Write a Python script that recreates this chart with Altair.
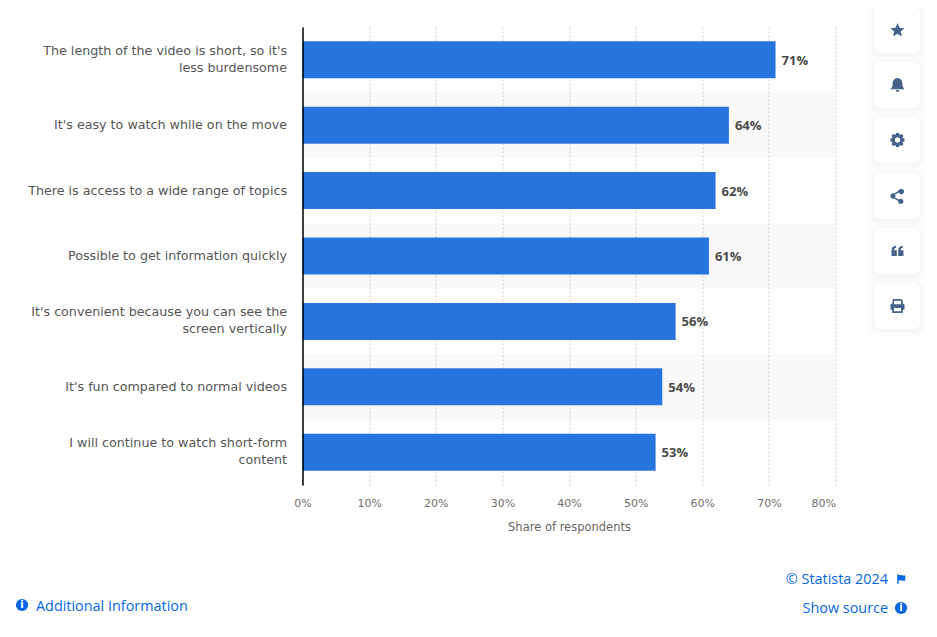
import altair as alt
import pandas as pd

categories = [
    "The length of the video is short, so it's|less burdensome",
    "It's easy to watch while on the move",
    "There is access to a wide range of topics",
    "Possible to get information quickly",
    "It's convenient because you can see the|screen vertically",
    "It's fun compared to normal videos",
    "I will continue to watch short-form|content",
]
values = [71, 64, 62, 61, 56, 54, 53]
x_ticks = [0, 10, 20, 30, 40, 50, 60, 70, 80]

FONT = "DejaVu Sans"
LINK = "Open Sans"
BLUE = "#0666e5"
ICON = "#46628a"
PW, PH = 533, 458
LEFT, TOP = 294.5, 19

df = pd.DataFrame({"cat": categories, "v": values, "label": [f"{v}%" for v in values],
                   "striped": [i % 2 == 1 for i in range(7)]})

y_enc = alt.Y("cat:N", sort=categories, title=None,
              scale=alt.Scale(paddingInner=0, paddingOuter=0),
              axis=alt.Axis(domainColor="#000000", domainWidth=1.5, ticks=False, grid=False,
                            labels=False))
x_scale = alt.Scale(domain=[0, 80], nice=False)
x_enc = alt.X("v:Q", scale=x_scale, title="Share of respondents",
              axis=alt.Axis(values=x_ticks, format="d", labelExpr="datum.value + '%'",
                            domain=False, ticks=False, grid=True, gridColor="#cfcfcf",
                            gridDash=[2, 2], gridWidth=1, labelFont=FONT, labelFontSize=11,
                            labelColor="#707070", labelPadding=12, labelOverlap=False,
                            labelFlush=False,
                            labelAlign=alt.expr("datum.value == 80 ? 'right' : 'center'"),
                            titleFont=FONT, titleFontSize=11.5, titleColor="#666666",
                            titleFontWeight="normal", titlePadding=13))

stripes = alt.Chart(df).transform_filter("datum.striped").mark_rect(
    color="#000000", opacity=0.025).encode(
    y=alt.Y("cat:N", sort=categories), x=alt.X("zero:Q", scale=x_scale), x2="top:Q"
).transform_calculate(zero="0", top="80")

bars = alt.Chart(df).mark_bar(color="#2874df", size=37).encode(x=x_enc, y=y_enc)
labels = alt.Chart(df).mark_text(align="left", dx=6, dy=1, font=LINK, fontSize=13, fontWeight="bold",
                                 color="#4a4a4a").encode(
    x="v:Q", y=alt.Y("cat:N", sort=categories), text="label:N")


def cat_layer(test, dy):
    return alt.Chart(df).transform_filter(test).mark_text(
        align="right", baseline="middle", dy=dy, font=FONT, fontSize=12.7,
        color="#555555", lineBreak="|", lineHeight=17).encode(
        x=alt.value(-15.5), y=alt.Y("cat:N", sort=categories), text="cat:N")


cat_single = cat_layer("indexof(datum.cat, '|') < 0", 0)
cat_double = cat_layer("indexof(datum.cat, '|') >= 0", -9)

# ---- page furniture ----
icon_y = [30, 85, 140, 196, 251, 306]
icon_paths = [
    "M0,-1 L0.29,-0.31 L1,-0.24 L0.47,0.2 L0.62,0.92 L0,0.55 L-0.62,0.92 L-0.47,0.2 L-1,-0.24 L-0.29,-0.31 Z",
    "M0,-1 C0.45,-1 0.7,-0.6 0.7,-0.2 L0.7,0.15 L1,0.6 L-1,0.6 L-0.7,0.15 L-0.7,-0.2 C-0.7,-0.6 -0.45,-1 0,-1 Z M-0.25,0.72 L0.25,0.72 L0.15,0.95 L-0.15,0.95 Z",
    "M-0.2,-1 L0.2,-1 L0.3,-0.7 L0.6,-0.85 L0.85,-0.6 L0.7,-0.3 L1,-0.2 L1,0.2 L0.7,0.3 L0.85,0.6 L0.6,0.85 L0.3,0.7 L0.2,1 L-0.2,1 L-0.3,0.7 L-0.6,0.85 L-0.85,0.6 L-0.7,0.3 L-1,0.2 L-1,-0.2 L-0.7,-0.3 L-0.85,-0.6 L-0.6,-0.85 L-0.3,-0.7 Z "
    "M0,-0.38 A0.38,0.38 0 0 0 0,0.38 A0.38,0.38 0 0 0 0,-0.38 Z",
    "M0.55,-1 A0.38,0.38 0 1 1 0.2,-0.5 L-0.35,-0.2 A0.38,0.38 0 0 1 -0.35,0.2 L0.2,0.5 A0.38,0.38 0 1 1 0.1,0.7 L-0.5,0.35 A0.38,0.38 0 1 1 -0.5,-0.35 L0.1,-0.7 A0.38,0.38 0 0 1 0.55,-1 Z",
    "M-0.85,-0.1 C-0.85,-0.5 -0.6,-0.7 -0.2,-0.75 L-0.2,-0.45 C-0.4,-0.42 -0.5,-0.3 -0.5,-0.1 L-0.1,-0.1 L-0.1,0.7 L-0.85,0.7 Z "
    "M0.1,-0.1 C0.1,-0.5 0.35,-0.7 0.75,-0.75 L0.75,-0.45 C0.55,-0.42 0.45,-0.3 0.45,-0.1 L0.85,-0.1 L0.85,0.7 L0.1,0.7 Z",
    "M-0.65,-1 L0.55,-1 L0.75,-0.8 L0.75,-0.35 L1,-0.2 L1,0.55 L0.75,0.55 L0.75,1 L-0.75,1 L-0.75,0.55 L-1,0.55 L-1,-0.2 L-0.75,-0.35 Z "
    "M-0.5,-0.75 L-0.5,-0.25 L0.5,-0.25 L0.5,-0.75 Z M-0.5,0.3 L-0.5,0.75 L0.5,0.75 L0.5,0.3 Z",
]

def px(x): return alt.value(x - LEFT - 8)
def py(y): return alt.value(y - TOP - 8)

anchor = pd.DataFrame({"a": [0]})
layers_front = []
for yc, path in zip(icon_y, icon_paths):
    for grow, op in [(6, 0.012), (4, 0.015), (2, 0.02)]:
        layers_front.append(alt.Chart(anchor).mark_rect(color="#3a4a6b", opacity=op, cornerRadius=8).encode(
            x=px(874 - grow), x2=px(920 + grow), y=py(yc - 23 - grow + 1), y2=py(yc + 23 + grow + 1)))
    layers_front.append(alt.Chart(anchor).mark_rect(color="#ffffff", cornerRadius=6).encode(
        x=px(874), x2=px(920), y=py(yc - 23), y2=py(yc + 23)))
    layers_front.append(alt.Chart(anchor).mark_point(shape=path, filled=True, color=ICON, opacity=1, size=196, strokeWidth=0).encode(
        x=px(897.5), y=py(yc)))

def link(text, x, y, align):
    return alt.Chart(pd.DataFrame({"t": [text]})).mark_text(
        font=LINK, fontSize=14.4, color=BLUE, align=align, baseline="middle").encode(
        x=px(x), y=py(y), text="t:N")

def info(x, y):
    return [
        alt.Chart(anchor).mark_point(shape="circle", filled=True, color=BLUE, opacity=1, size=150, strokeWidth=0).encode(x=px(x), y=py(y)),
        alt.Chart(pd.DataFrame({"t": ["i"]})).mark_text(font=FONT, fontSize=10, fontWeight="bold", color="#ffffff", baseline="middle").encode(x=px(x), y=py(y), text="t:N"),
    ]

flag = alt.Chart(anchor).mark_point(
    shape="M-0.8,-1 L-0.5,-1 L-0.5,-0.8 C-0.1,-1 0.3,-0.6 0.9,-0.8 L0.9,0.3 C0.3,0.5 -0.1,0.1 -0.5,0.3 L-0.5,1 L-0.8,1 Z",
    filled=True, color=BLUE, opacity=1, size=90, strokeWidth=0).encode(x=px(901), y=py(579))

furniture = layers_front + [
    link("Additional Information", 36, 607, "left"),
    link("© Statista 2024", 888, 580, "right"),
    link("Show source", 888, 609, "right"),
    flag,
] + info(22, 605) + info(901, 608)

chart = alt.layer(stripes, bars, labels, cat_single, cat_double, *furniture).properties(
    width=PW, height=PH,
    padding={"left": LEFT, "top": TOP, "right": 921 - LEFT - PW, "bottom": 621 - TOP - PH},
    autosize=alt.AutoSizeParams(type="none"),
    background="#ffffff",
).configure_view(stroke=None)

chart.save("out.html", embed_options={"renderer": "svg", "actions": False})
